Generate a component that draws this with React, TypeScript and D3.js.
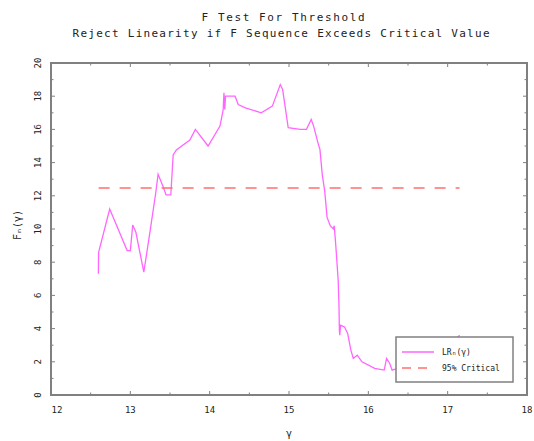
import React from "react";
import * as d3 from "d3";

const gammaVals = [12.597, 12.6, 12.74, 12.96, 13.0, 13.03, 13.07, 13.17, 13.25, 13.32, 13.35, 13.42, 13.45, 13.51, 13.54, 13.58, 13.75, 13.82, 13.98, 14.13, 14.17, 14.18, 14.19, 14.2, 14.27, 14.32, 14.36, 14.45, 14.65, 14.79, 14.89, 14.92, 14.99, 15.14, 15.22, 15.28, 15.31, 15.37, 15.39, 15.42, 15.45, 15.48, 15.52, 15.56, 15.57, 15.59, 15.62, 15.63, 15.635, 15.64, 15.65, 15.7, 15.74, 15.78, 15.81, 15.86, 15.92, 16.08, 16.2, 16.23, 16.27, 16.3, 16.5, 16.8, 17.0, 17.15];
const fVals = [7.3, 8.6, 11.2, 8.7, 8.7, 10.24, 9.8, 7.4, 9.9, 12.17, 13.3, 12.47, 12.05, 12.05, 14.46, 14.76, 15.36, 16.0, 15.0, 16.2, 17.17, 18.2, 17.2, 18.0, 18.0, 18.0, 17.5, 17.3, 17.0, 17.4, 18.7, 18.4, 16.1, 16.0, 16.0, 16.6, 16.2, 15.1, 14.8, 13.25, 12.3, 10.7, 10.2, 10.0, 10.2, 9.0, 6.9, 5.4, 3.9, 3.6, 4.2, 4.1, 3.7, 2.7, 2.2, 2.4, 2.0, 1.6, 1.5, 2.2, 1.9, 1.5, 1.8, 2.2, 2.8, 3.6];
const critical = 12.47;
const critRange = [12.6, 17.15];
const xTicks = [12, 13, 14, 15, 16, 17, 18];
const yTicks = [0, 2, 4, 6, 8, 10, 12, 14, 16, 18, 20];
const titleLines = ["F Test For Threshold", "Reject Linearity if F Sequence Exceeds Critical Value"];
const legendLabels = ["LR\u2099(\u03b3)", "95% Critical"];
const yLabel = "F\u2099(\u03b3)";
const xLabel = "\u03b3";

export default function App() {
  const W = 534, H = 441;
  const L = 51, R = 527, T = 63, B = 395;
  const x = d3.scaleLinear().domain([12, 18]).range([L, R]);
  const y = d3.scaleLinear().domain([0, 20]).range([B, T]);
  const line = d3.line<number>().x((_, i) => x(gammaVals[i])).y((d) => y(d));
  const xMinor = d3.range(12, 18.01, 0.5);
  const yMinor = d3.range(0, 20.01, 1);
  const frame = "#808080";
  const font = "DejaVu Sans Mono, monospace";
  const txt = "#222";
  return (
    <svg width={W} height={H} style={{ position: "absolute", left: 0, top: 0 }}>
      <rect width={W} height={H} fill="#fff" />
      <text x={283} y={21} textAnchor="middle" fontFamily={font} fontSize={11} fill={txt} textLength={163}>{titleLines[0]}</text>
      <text x={281} y={37} textAnchor="middle" fontFamily={font} fontSize={11} fill={txt} textLength={417}>{titleLines[1]}</text>
      <path d={line(fVals) || ""} fill="none" stroke="#ff66ff" strokeWidth={1.3} />
      <line x1={x(critRange[0])} x2={x(critRange[1])} y1={y(critical)} y2={y(critical)} stroke="#ff6f6f" strokeWidth={1.6} strokeDasharray="11,10" />
      {xMinor.map((v) => {
        const len = Number.isInteger(v) ? 4 : 2.5;
        return (
          <g key={"xt" + v}>
            <line x1={x(v)} x2={x(v)} y1={B} y2={B - len} stroke={frame} />
            <line x1={x(v)} x2={x(v)} y1={T} y2={T + len} stroke={frame} />
          </g>
        );
      })}
      {yMinor.map((v) => {
        const len = v % 2 === 0 ? 4 : 2.5;
        return (
          <g key={"yt" + v}>
            <line x1={L} x2={L + len} y1={y(v)} y2={y(v)} stroke={frame} />
            <line x1={R} x2={R - len} y1={y(v)} y2={y(v)} stroke={frame} />
          </g>
        );
      })}
      <rect x={L} y={T} width={R - L} height={B - T} fill="none" stroke={frame} strokeWidth={2} />
      {xTicks.map((v) => (
        <text key={"xl" + v} x={x(v) + (v === 12 ? 6 : 0)} y={413} textAnchor="middle" fontFamily={font} fontSize={9} fill={txt}>{v}</text>
      ))}
      {yTicks.map((v) => (
        <text key={"yl" + v} transform={`translate(${41},${y(v)}) rotate(-90)`} textAnchor="middle" fontFamily={font} fontSize={9} fill={txt}>{v}</text>
      ))}
      <text transform={`translate(${21},${225}) rotate(-90)`} textAnchor="middle" fontFamily={font} fontSize={10} fill={txt}>{yLabel}</text>
      <text x={289} y={437} textAnchor="middle" fontFamily={font} fontSize={10} fill={txt}>{xLabel}</text>
      <rect x={396} y={337} width={117} height={45} fill="#fff" stroke={frame} strokeWidth={1.5} />
      <line x1={402} x2={434} y1={352} y2={352} stroke="#ff66ff" strokeWidth={1.5} />
      <line x1={402} x2={434} y1={368} y2={368} stroke="#ff6f6f" strokeWidth={1.5} strokeDasharray="9,7" />
      <text x={442} y={355} fontFamily={font} fontSize={8} fill={txt}>{legendLabels[0]}</text>
      <text x={442} y={371} fontFamily={font} fontSize={8} fill={txt}>{legendLabels[1]}</text>
    </svg>
  );
}
